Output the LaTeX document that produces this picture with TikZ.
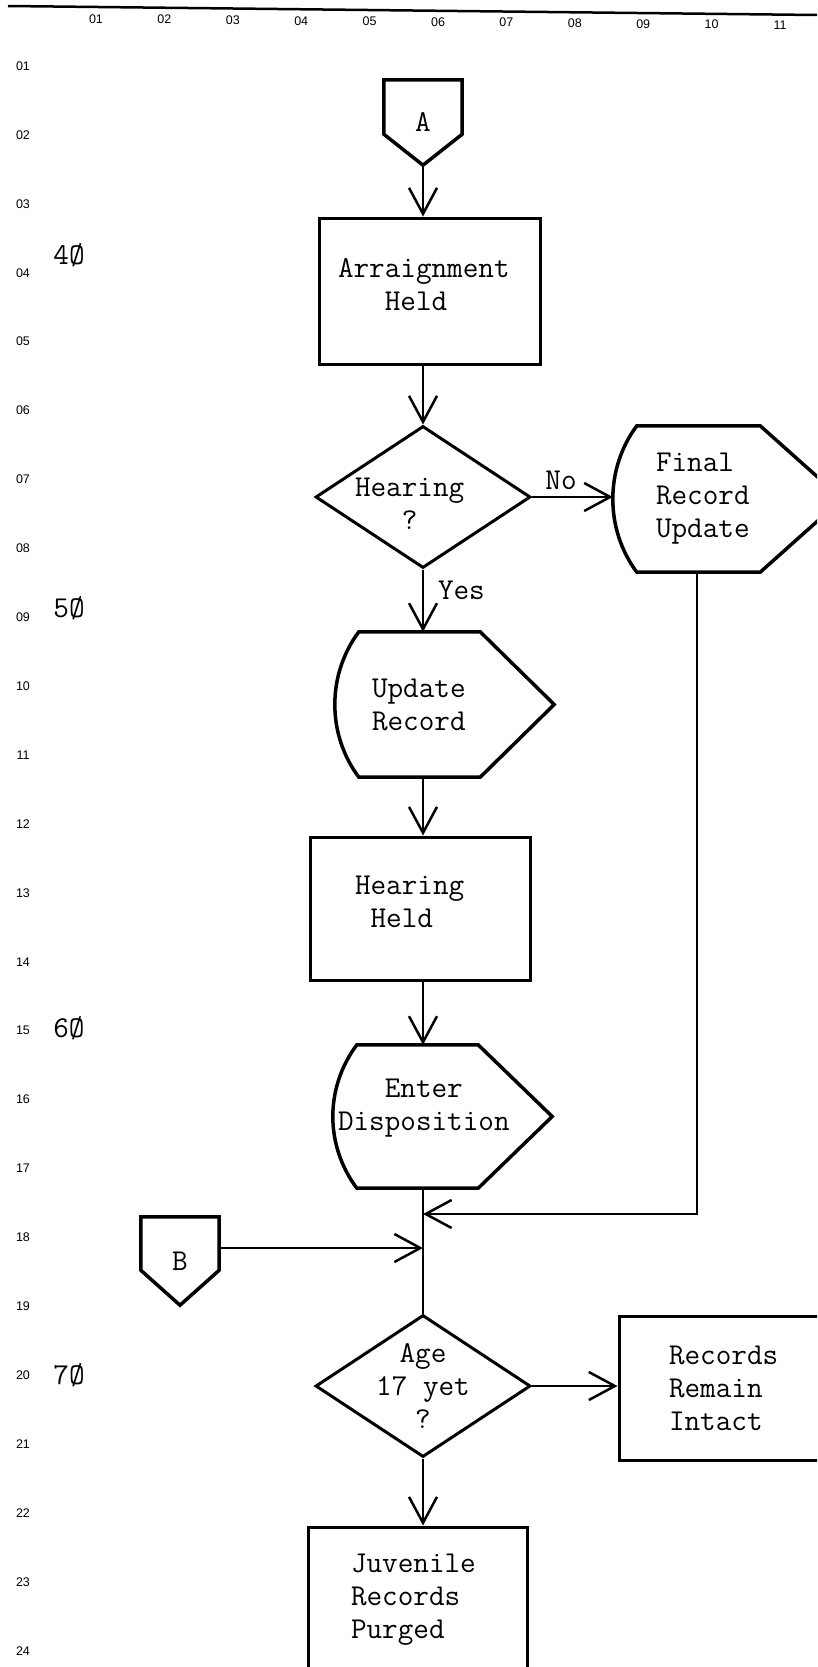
\documentclass[tikz,border=0pt]{standalone}
\usepackage{fontspec}
\newfontfamily\rulerfont{Liberation Sans}
\usetikzlibrary{shapes.geometric,arrows.meta}

\begin{document}
\begin{tikzpicture}
    [   x=1pt,y=-1pt,
        txt/.style={inner sep=0pt,font=\ttfamily\fontsize{30.3}{33}\selectfont},
        ruler/.style={inner sep=0pt,font=\rulerfont\fontsize{12.5}{14}\selectfont},
        box/.style={txt,draw,line width=3pt,align=left,minimum height=#1},
        box/.default=145,
        disp/.style={txt,align=left,minimum height=145},
        conn/.style={txt,minimum width=78},
        dec/.style={txt,diamond,draw,line width=3pt,inner sep=-40pt,minimum width=215,minimum height=142},
        outline/.style={line width=3.5pt},
        flow/.style={line width=2pt,-{Straight Barb[length=26pt,width=28pt,line width=2.5pt]}},
    ]
        \useasboundingbox (0,0) rectangle (817,1667);
        \clip (0,0) rectangle (817,1667);
        \draw[line width=2.5pt] (8,6) -- (817,15);
        \foreach \x in {1,...,11}
        {   \pgfmathparse{\x<10 ? "0\x" : "\x"}
            \edef\lab{\pgfmathresult}
            \node[ruler] (col-\x) at ({96+68.4*(\x-1)},{19+0.6*(\x-1)}) {\lab};
        }
        \foreach \y in {1,...,24}
        {   \pgfmathparse{\y<10 ? "0\y" : "\y"}
            \edef\lab{\pgfmathresult}
            \node[ruler] (row-\y) at (23,{66+68.9*(\y-1)}) {\lab};
        }
        \foreach \x/\y in {4/255,5/608,6/1028,7/1375}
        {   \node[txt] (sec-\x) at (69,\y) {\x Ø};
        }
        \node[conn,minimum height=85] (conA) at (423,122.5) {A};
        \node[box,minimum width=221,minimum height=146,text width=183,text depth=45pt] (arr) at (429.5,291) {Arraignment\\\phantom{Arr}Held};
        \node[dec,align=left,text width=136,text depth=19pt] (hrq) at (423,497) {Hearing\\\phantom{Hea}?};
        \node[disp,minimum width=229,minimum height=146,text width=143] (fin) at (727.5,499) {Final\\Record\\Update};
        \node[disp,minimum width=219,text width=145] (upd) at (444.5,704.5) {Update\\Record};
        \node[box,minimum width=220,minimum height=143,text width=130,text depth=47pt] (hh) at (420,908.5) {Hearing\\\phantom{H}Held};
        \node[disp,minimum width=219,minimum height=143,text width=209,text depth=56pt] (ent) at (442.5,1116.5) {\phantom{Dis}Enter\\Disposition};
        \node[conn,minimum height=88] (conB) at (180,1261) {B};
        \node[dec,align=center] (age) at (423,1386) {Age\\17 yet\\?};
        \node[box,minimum width=221,minimum height=144,text width=121] (rri) at (729.5,1388) {Records\\Remain\\Intact};
        \node[box,minimum width=219,text width=133] (jrp) at (417.5,1599.5) {Juvenile\\Records\\Purged};
        \coordinate (jf) at (423,1214);
        \coordinate (jb) at (423,1248);
        \foreach \c/\h in {conA/31,conB/35}
        {   \draw[outline] (\c.north west) -- (\c.north east) -- ([yshift=\h pt]\c.south east) -- (\c.south) -- ([yshift=\h pt]\c.south west) -- cycle;
        }
        \foreach \n/\r in {fin/82,upd/74,ent/74}
        {   \draw[outline] ([xshift=24pt]\n.north west) -- ([xshift=-\r pt]\n.north east) -- (\n.east) -- ([xshift=-\r pt]\n.south east) -- ([xshift=24pt]\n.south west) .. controls ([xshift=-8pt,yshift=43pt]\n.south west) and ([xshift=-8pt,yshift=-43pt]\n.north west) .. ([xshift=24pt]\n.north west) -- cycle;
        }
        \draw[flow] (conA.south) -- (conA.south |- arr.north);
        \draw[flow] (hrq.north |- arr.south) -- (hrq.north);
        \draw[flow] (hrq.east) -- node[txt,pos=0.36,above=6pt] (no) {No} (hrq.east -| fin.west);
        \draw[flow] (hrq.south) -- node[txt,pos=0.33,right=14pt] (yes) {Yes} (hrq.south |- upd.north);
        \draw[flow] (upd.south -| hrq.south) -- (hh.north -| hrq.south);
        \draw[flow] (hh.south -| hrq.south) -- (ent.north -| hrq.south);
        \draw[line width=2pt] (ent.south -| age.north) -- (age.north);
        \draw[flow] ([xshift=-30.5pt]fin.south) |- (jf);
        \draw[flow] (conB.east |- jb) -- (jb);
        \draw[flow] (age.east) -- (age.east -| rri.west);
        \draw[flow] (age.south) -- (age.south |- jrp.north);
\end{tikzpicture}
\end{document}
